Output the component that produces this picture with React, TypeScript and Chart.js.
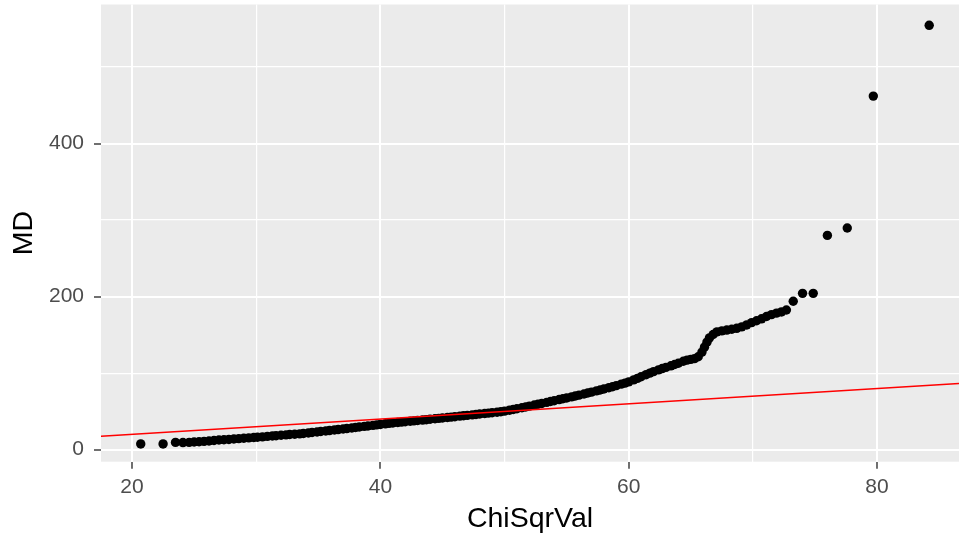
import React, { useEffect, useRef } from "react";
import { Chart, registerables } from "chart.js";

Chart.register(...registerables);

// Chi-square quantiles (x) and sorted Mahalanobis distances (y)
const chiSqrVal: number[] = [
  20.7, 22.5, 23.5, 24.1, 24.6, 25.0, 25.4, 25.8, 26.2, 26.6, 27.0, 27.4, 27.8, 28.2, 28.6, 29.0, 29.4, 29.8,
  30.1, 30.5, 30.9, 31.3, 31.6, 32.0, 32.4, 32.7, 33.1, 33.5, 33.8, 34.2, 34.5, 34.9, 35.2, 35.6, 35.9, 36.3,
  36.6, 37.0, 37.3, 37.7, 38.0, 38.3, 38.7, 39.0, 39.4, 39.7, 40.0, 40.4, 40.7, 41.0, 41.4, 41.7, 42.0, 42.4,
  42.7, 43.0, 43.4, 43.7, 44.0, 44.4, 44.7, 45.0, 45.4, 45.7, 46.0, 46.4, 46.7, 47.0, 47.4, 47.7, 48.0, 48.4,
  48.7, 49.0, 49.4, 49.7, 50.0, 50.4, 50.7, 51.0, 51.4, 51.7, 52.0, 52.4, 52.7, 53.0, 53.4, 53.7, 54.0, 54.4,
  54.7, 55.0, 55.4, 55.7, 56.0, 56.4, 56.7, 57.0, 57.4, 57.7, 58.0, 58.4, 58.7, 59.0, 59.4, 59.7, 60.0, 60.4,
  60.7, 61.0, 61.4, 61.7, 62.0, 62.4, 62.7, 63.0, 63.4, 63.7, 64.0, 64.4, 64.7, 65.0, 65.3, 65.6, 65.9, 66.1,
  66.3, 66.5, 66.8, 67.1, 67.5, 67.9, 68.3, 68.7, 69.1, 69.5, 69.9, 70.3, 70.7, 71.1, 71.5, 71.9, 72.3, 72.7,
  73.25, 74.0, 74.86, 76.0, 77.6, 79.7, 84.2,
];

const md: number[] = [
  7.5, 7.5, 9.5, 9.3, 9.6, 10.0, 10.4, 10.9, 11.4, 12.0, 12.6, 13.0, 13.4, 13.9, 14.4, 14.9, 15.4, 15.9,
  16.2, 16.8, 17.4, 17.9, 18.3, 18.9, 19.4, 19.8, 20.2, 20.6, 21.1, 21.8, 22.4, 23.1, 23.7, 24.4, 25.0, 25.8,
  26.3, 27.0, 27.6, 28.4, 29.0, 29.6, 30.4, 31.0, 31.8, 32.4, 33.0, 33.8, 34.4, 34.9, 35.5, 36.0, 36.5, 37.1,
  37.6, 38.1, 38.7, 39.2, 39.7, 40.4, 40.9, 41.4, 42.1, 42.6, 43.1, 43.8, 44.3, 44.8, 45.5, 46.0, 46.6, 47.3,
  47.8, 48.3, 49.0, 49.6, 50.4, 51.6, 52.5, 53.5, 54.8, 55.8, 56.9, 58.3, 59.4, 60.4, 61.8, 62.9, 64.0, 65.5,
  66.6, 67.6, 69.0, 70.1, 71.3, 72.8, 74.0, 75.2, 76.8, 78.0, 79.3, 81.0, 82.3, 83.7, 85.6, 87.0, 88.6, 91.2,
  93.2, 95.3, 98.0, 100.0, 102.0, 104.3, 106.0, 107.5, 109.6, 111.3, 113.0, 115.5, 117.0, 118.0, 119.0, 121.5, 127.5, 134.0,
  140.5, 146.0, 150.5, 154.0, 155.3, 156.3, 157.3, 158.6, 160.5, 163.0, 166.0, 168.5, 171.0, 174.0, 176.5, 178.5, 180.0, 182.5,
  194.0, 204.3, 204.3, 280.0, 289.7, 462.0, 554.5,
];

// Reference line (abline)
const abIntercept = 0;
const abSlope = 1;

// Axis ranges and ticks
const xMin = 17.5;
const xMax = 86.6;
const yMin = -15.7;
const yMax = 581.7;
const xGrid: number[] = [20, 30, 40, 50, 60, 70, 80];
const xLabels: number[] = [20, 40, 60, 80];
const yGrid: number[] = [0, 100, 200, 300, 400, 500];
const yLabels: number[] = [0, 200, 400];

const panelBg = {
  id: "panelBg",
  beforeDraw(chart: any) {
    const { ctx, chartArea } = chart;
    ctx.save();
    ctx.fillStyle = "#EBEBEB";
    ctx.fillRect(chartArea.left, chartArea.top, chartArea.right - chartArea.left, chartArea.bottom - chartArea.top);
    ctx.restore();
  },
};

const zeroPad = (s: any) => {
  s.paddingTop = 0;
  s.paddingBottom = 0;
  s.paddingLeft = 0;
  s.paddingRight = 0;
};

export default function App() {
  const ref = useRef<HTMLCanvasElement | null>(null);

  useEffect(() => {
    document.body.style.margin = "0";
    if (!ref.current) return;
    const points = chiSqrVal.map((x, i) => ({ x, y: md[i] }));
    const lineData = [xMin, xMax].map((x) => ({ x, y: abIntercept + abSlope * x }));

    const tickFont = { family: "'Liberation Sans', Arial, sans-serif", size: 21 };
    const titleFont = { family: "'Liberation Sans', Arial, sans-serif", size: 28.5 };

    const chart = new Chart(ref.current, {
      type: "scatter",
      data: {
        datasets: [
          {
            type: "line",
            data: lineData,
            borderColor: "#FF0000",
            borderWidth: 1.5,
            pointRadius: 0,
            fill: false,
            order: 0,
          } as any,
          {
            data: points,
            backgroundColor: "#000000",
            borderWidth: 0,
            pointRadius: 4.7,
            order: 1,
          },
        ],
      },
      plugins: [panelBg],
      options: {
        responsive: false,
        animation: false,
        layout: { autoPadding: false, padding: { top: 4.5, right: 0, bottom: 0, left: 0 } },
        plugins: { legend: { display: false }, tooltip: { enabled: false } },
        scales: {
          x: {
            type: "linear",
            min: xMin,
            max: xMax,
            afterBuildTicks: (s: any) => {
              s.ticks = xGrid.map((v) => ({ value: v }));
            },
            afterFit: (s: any) => {
              s.height = 75.3;
              zeroPad(s);
            },
            border: { display: false },
            grid: {
              color: "#FFFFFF",
              lineWidth: (c: any) => (xLabels.includes(c.tick?.value) ? 2 : 1.2),
              tickColor: (c: any) => (xLabels.includes(c.tick?.value) ? "#333333" : "rgba(0,0,0,0)"),
              tickWidth: 1.4,
              tickLength: 7,
            },
            ticks: {
              autoSkip: false,
              maxRotation: 0,
              padding: 6,
              color: "#4D4D4D",
              font: tickFont,
              callback: (v: any) => (xLabels.includes(Number(v)) ? String(v) : ""),
            },
            title: {
              display: true,
              text: "ChiSqrVal",
              color: "#000000",
              font: titleFont,
              padding: { top: 0, bottom: 1 },
            },
          },
          y: {
            type: "linear",
            min: yMin,
            max: yMax,
            afterBuildTicks: (s: any) => {
              s.ticks = yGrid.map((v) => ({ value: v }));
            },
            afterFit: (s: any) => {
              s.width = 101;
              zeroPad(s);
            },
            border: { display: false },
            grid: {
              color: "#FFFFFF",
              lineWidth: (c: any) => (yLabels.includes(c.tick?.value) ? 2 : 1.2),
              tickColor: (c: any) => (yLabels.includes(c.tick?.value) ? "#333333" : "rgba(0,0,0,0)"),
              tickWidth: 1.4,
              tickLength: 7,
            },
            ticks: {
              autoSkip: false,
              padding: 10,
              color: "#4D4D4D",
              font: tickFont,
              callback: (v: any) => (yLabels.includes(Number(v)) ? String(v) : ""),
            },
            title: {
              display: true,
              text: "MD",
              color: "#000000",
              font: titleFont,
              padding: { top: 7, bottom: 0 },
            },
          },
        },
      },
    });
    return () => chart.destroy();
  }, []);

  return (
    <div style={{ width: 959, height: 537 }}>
      <canvas ref={ref} width={959} height={537} style={{ display: "block" }} />
    </div>
  );
}
